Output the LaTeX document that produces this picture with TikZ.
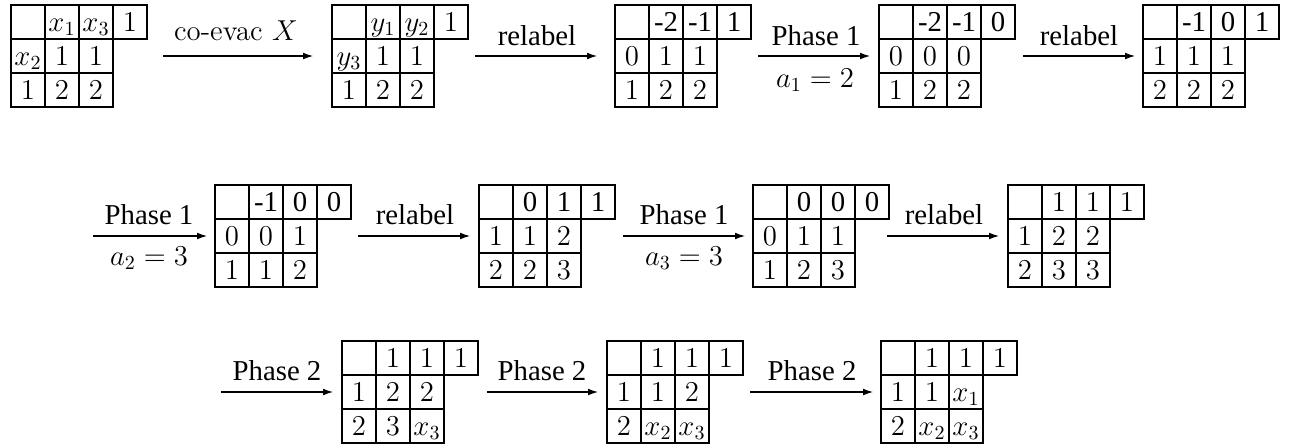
\documentclass[tikz,border=0pt]{standalone}
\usepackage{fontspec}
\newfontfamily\tm{Liberation Serif}
\usetikzlibrary{arrows.meta}

% one tableau: name, left x, top y, top row (after the empty corner), middle row, bottom row
\newcommand{\youngtab}[6]{%
  \node[cell] (#1-0-0) at (#2+17,#3+17) {};
  \foreach \v [count=\c] in {#4} \node[cell] (#1-0-\c) at (#2+17+34*\c,#3+17) {\v};
  \foreach \v [count=\c from 0] in {#5} \node[cell] (#1-1-\c) at (#2+17+34*\c,#3+51) {\v};
  \foreach \v [count=\c from 0] in {#6} \node[cell] (#1-2-\c) at (#2+17+34*\c,#3+85) {\v};
}

\tikzset{
  cell/.style={draw, line width=0.7pt, minimum width=17pt, minimum height=17pt,
    inner sep=0pt, outer sep=0pt, text height=9.3pt, text depth=0pt,
    font=\fontsize{14.4}{17}\selectfont},
  arr/.style={line width=0.55pt, -{Latex[length=5pt,width=3.4pt]}},
  lbl/.style={anchor=base, inner sep=0pt, font=\fontsize{14.4}{17}\selectfont},
  tlbl/.style={anchor=base, inner sep=0pt, font=\fontsize{14.4}{17}\selectfont\tm},
}

\begin{document}
\begin{tikzpicture}[x=0.5pt, y=-0.5pt]
\fill[white] (0,0) rectangle (1297,445);
\useasboundingbox (0,0) rectangle (1297,445);

% first row
\youngtab{T1}{11}{5}{{$x_1$},{$x_3$},1}{{$x_2$},1,1}{1,2,2}
\youngtab{T2}{332}{5}{{$y_1$},{$y_2$},1}{{$y_3$},1,1}{1,2,2}
\youngtab{T3}{615}{5}{{\tm -2},{\tm -1},{\tm 1}}{0,1,1}{1,2,2}
\youngtab{T4}{879}{5}{{\tm -2},{\tm -1},{\tm 0}}{0,0,0}{1,2,2}
\youngtab{T5}{1143}{5}{{\tm -1},{\tm 0},{\tm 1}}{1,1,1}{2,2,2}

\coordinate (a1s) at (163,56);  \coordinate (a1e) at (313,56);
\coordinate (a2s) at (475,56);  \coordinate (a2e) at (597,56);
\coordinate (a3s) at (758,56);  \coordinate (a3e) at (870,56);
\coordinate (a4s) at (1023,56); \coordinate (a4e) at (1135,56);
\draw[arr] (a1s) -- (a1e);
\draw[arr] (a2s) -- (a2e);
\draw[arr] (a3s) -- (a3e);
\draw[arr] (a4s) -- (a4e);
\node[lbl]  (l1)  at (236,40)  {co-evac $X$};
\node[tlbl] (l2)  at (537,45)  {relabel};
\node[tlbl] (l3)  at (816,45)  {Phase 1};
\node[lbl]  (l3b) at (815,87)  {$a_1=2$};
\node[tlbl] (l4)  at (1079,45) {relabel};

% second row
\youngtab{T6}{215}{185}{{\tm -1},{\tm 0},{\tm 0}}{0,0,1}{1,1,2}
\youngtab{T7}{479}{185}{{\tm 0},{\tm 1},{\tm 1}}{1,1,2}{2,2,3}
\youngtab{T8}{753}{185}{{\tm 0},{\tm 0},{\tm 0}}{0,1,1}{1,2,3}
\youngtab{T9}{1008}{185}{1,1,1}{1,2,2}{2,3,3}

\coordinate (a5s) at (93,236);  \coordinate (a5e) at (207,236);
\coordinate (a6s) at (358,236); \coordinate (a6e) at (470,236);
\coordinate (a7s) at (623,236); \coordinate (a7e) at (745,236);
\coordinate (a8s) at (887,236); \coordinate (a8e) at (999,236);
\draw[arr] (a5s) -- (a5e);
\draw[arr] (a6s) -- (a6e);
\draw[arr] (a7s) -- (a7e);
\draw[arr] (a8s) -- (a8e);
\node[tlbl] (l5)  at (149,224) {Phase 1};
\node[lbl]  (l5b) at (149,265) {$a_2=3$};
\node[tlbl] (l6)  at (415,224) {relabel};
\node[tlbl] (l7)  at (684,224) {Phase 1};
\node[lbl]  (l7b) at (684,265) {$a_3=3$};
\node[tlbl] (l8)  at (944,224) {relabel};

% third row
\youngtab{T10}{342}{341}{1,1,1}{1,2,2}{2,3,{$x_3$}}
\youngtab{T11}{607}{341}{1,1,1}{1,1,2}{2,{$x_2$},{$x_3$}}
\youngtab{T12}{881}{341}{1,1,1}{1,1,{$x_1$}}{2,{$x_2$},{$x_3$}}

\coordinate (a9s) at (221,392);  \coordinate (a9e) at (333,392);
\coordinate (a10s) at (487,392); \coordinate (a10e) at (598,392);
\coordinate (a11s) at (750,392); \coordinate (a11e) at (873,392);
\draw[arr] (a9s) -- (a9e);
\draw[arr] (a10s) -- (a10e);
\draw[arr] (a11s) -- (a11e);
\node[tlbl] (l9)  at (277,380) {Phase 2};
\node[tlbl] (l10) at (542,380) {Phase 2};
\node[tlbl] (l11) at (812,380) {Phase 2};
\end{tikzpicture}
\end{document}
